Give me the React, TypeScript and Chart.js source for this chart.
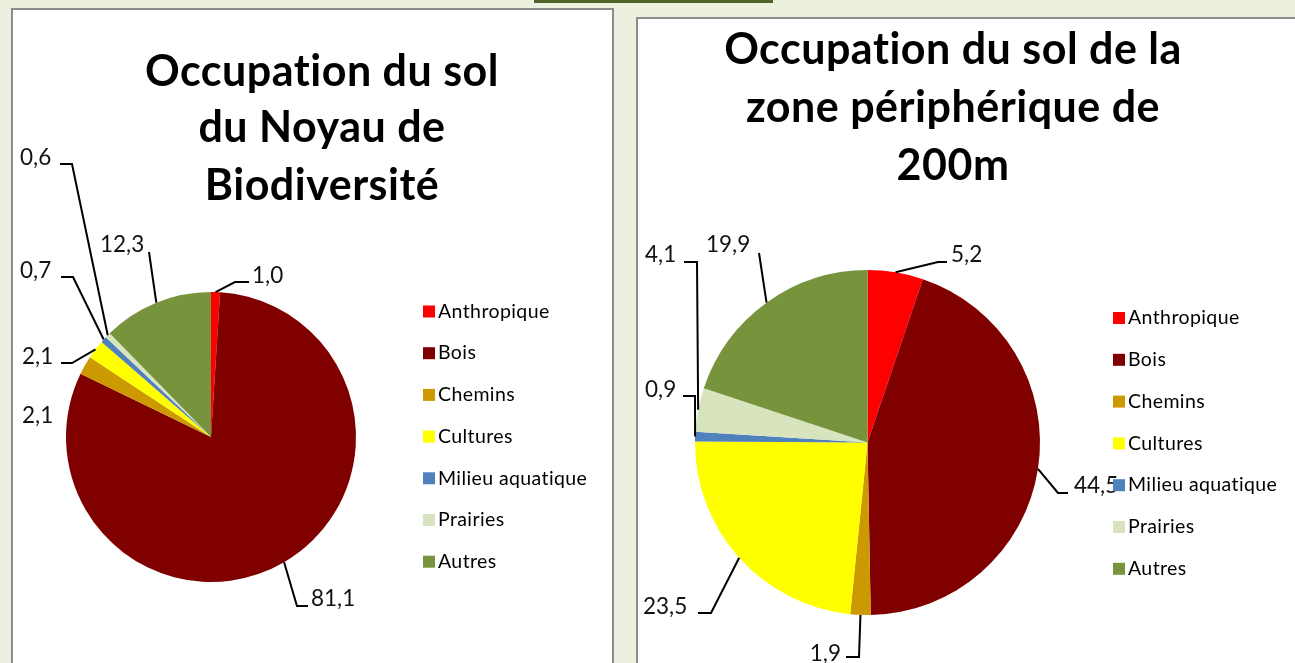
import React, { useEffect, useRef } from "react";
import { Chart, registerables } from "chart.js";

Chart.register(...registerables);

// ---------- data ----------
const categories = ["Anthropique", "Bois", "Chemins", "Cultures", "Milieu aquatique", "Prairies", "Autres"];
const sliceColors = ["#FF0000", "#800000", "#CC9900", "#FFFF00", "#4F81BD", "#D7E4BD", "#77933C"];
const noyauValues = [1.0, 81.1, 2.1, 2.1, 0.7, 0.6, 12.3];
const zoneValues = [5.2, 44.5, 1.9, 23.5, 0.9, 4.1, 19.9];
const noyauTitle = ["Occupation du sol", "du Noyau de", "Biodiversité"];
const zoneTitle = ["Occupation du sol de la", "zone périphérique de", "200m"];

// ---------- layout (canvas pixels) ----------
type LabelPos = { x: number; y: number; align: "left" | "right"; path: [number, number][] | null };

const noyauLabelPos: LabelPos[] = [
  { x: 239, y: 273, align: "left", path: [[222, 272], [236, 272]] },
  { x: 298, y: 596, align: "left", path: [[284, 596], [295, 596]] },
  { x: 9, y: 413, align: "left", path: null },
  { x: 9, y: 354, align: "left", path: [[59, 353], [48, 353]] },
  { x: 7, y: 268, align: "left", path: [[60, 267], [48, 267]] },
  { x: 7, y: 155, align: "left", path: [[59, 154], [47, 154]] },
  { x: 87, y: 242, align: "left", path: [[136, 242]] },
];

const zoneLabelPos: LabelPos[] = [
  { x: 313, y: 243, align: "left", path: [[300, 243], [309, 243]] },
  { x: 436, y: 474, align: "left", path: [[420, 474], [430, 474]] },
  { x: 203, y: 642, align: "right", path: [[221, 638], [208, 638]] },
  { x: 5, y: 595, align: "left", path: [[73, 594], [60, 594]] },
  { x: 7, y: 378, align: "left", path: [[57, 377], [45, 377]] },
  { x: 7, y: 243, align: "left", path: [[59, 243], [46, 243]] },
  { x: 68, y: 233, align: "left", path: [[121, 234]] },
];

type PanelCfg = {
  values: number[];
  title: string[];
  titleX: number;
  titleBaselines: number[];
  titleFont: string;
  labelPos: LabelPos[];
  legendX: number;
  legendY: number;
  legendStep: number;
  padding: { left: number; top: number; right: number; bottom: number };
  cw: number;
  ch: number;
};

const fmt = (v: number) => v.toFixed(1).replace(".", ",");

const overlayPlugin = (cfg: PanelCfg) => ({
  id: "overlay",
  afterDraw(chart: any) {
    const ctx = chart.ctx as any;
    ctx.save();
    // title
    ctx.fillStyle = "#000";
    ctx.font = cfg.titleFont;
    ctx.letterSpacing = "0.5px";
    ctx.textAlign = "center";
    ctx.textBaseline = "alphabetic";
    cfg.title.forEach((t, i) => ctx.fillText(t, cfg.titleX, cfg.titleBaselines[i]));

    // data labels + leader lines
    const meta = chart.getDatasetMeta(0);
    ctx.font = "22.5px Lato";
    ctx.letterSpacing = "0px";
    meta.data.forEach((arc: any, i: number) => {
      const p = cfg.labelPos[i];
      const v = cfg.values[i];
      if (p.path) {
        const mid = (arc.startAngle + arc.endAngle) / 2;
        const ex = arc.x + Math.cos(mid) * arc.outerRadius;
        const ey = arc.y + Math.sin(mid) * arc.outerRadius;
        ctx.beginPath();
        ctx.moveTo(ex, ey);
        p.path.forEach(([px, py]) => ctx.lineTo(px, py));
        ctx.strokeStyle = "#000";
        ctx.lineWidth = 2;
        ctx.lineJoin = "miter";
        ctx.stroke();
      }
      ctx.fillStyle = "#111";
      ctx.textAlign = p.align;
      ctx.textBaseline = "alphabetic";
      ctx.fillText(fmt(v), p.x, p.y);
    });

    // legend
    ctx.font = "19.5px Lato";
    ctx.letterSpacing = "0.4px";
    ctx.textAlign = "left";
    ctx.textBaseline = "middle";
    categories.forEach((c, i) => {
      const cy = cfg.legendY + i * cfg.legendStep;
      ctx.fillStyle = sliceColors[i];
      ctx.fillRect(cfg.legendX, cy - 6, 12, 12);
      ctx.fillStyle = "#000";
      ctx.fillText(c, cfg.legendX + 15, cy);
    });
    ctx.restore();
  },
});

function PiePanel({ cfg }: { cfg: PanelCfg }) {
  const ref = useRef<HTMLCanvasElement>(null);
  useEffect(() => {
    if (!ref.current) return;
    const chart = new Chart(ref.current, {
      type: "pie",
      data: {
        labels: categories,
        datasets: [
          {
            data: cfg.values,
            backgroundColor: sliceColors,
            borderWidth: 0,
          },
        ],
      },
      options: {
        responsive: false,
        animation: false,
        layout: { padding: cfg.padding },
        plugins: {
          legend: { display: false },
          tooltip: { enabled: false },
          title: { display: false },
        },
      },
      plugins: [overlayPlugin(cfg)],
    });
    return () => chart.destroy();
  }, [cfg]);
  return <canvas ref={ref} width={cfg.cw} height={cfg.ch} style={{ display: "block", width: cfg.cw, height: cfg.ch }} />;
}

const noyauCfg: PanelCfg = {
  values: noyauValues,
  title: noyauTitle,
  titleX: 309,
  titleBaselines: [76, 132, 190],
  titleFont: "bold 43px Lato",
  labelPos: noyauLabelPos,
  legendX: 410,
  legendY: 301.5,
  legendStep: 41.7,
  padding: { left: 53, top: 282, right: 256, bottom: 88 },
  cw: 599,
  ch: 660,
};

const zoneCfg: PanelCfg = {
  values: zoneValues,
  title: zoneTitle,
  titleX: 315,
  titleBaselines: [45, 103, 161],
  titleFont: "bold 43px Lato",
  labelPos: zoneLabelPos,
  legendX: 475,
  legendY: 299,
  legendStep: 41.8,
  padding: { left: 57, top: 251, right: 258, bottom: 54 },
  cw: 660,
  ch: 650,
};

export default function App() {
  return (
    <div style={{ position: "fixed", left: 0, top: 0, width: 1295, height: 663, background: "#EBF1DE", overflow: "hidden" }}>
      <div style={{ position: "absolute", left: 534, top: 0, width: 239, height: 3, background: "#4F6228" }} />
      <div
        style={{
          position: "absolute",
          left: 11,
          top: 8,
          width: 603,
          height: 700,
          boxSizing: "border-box",
          border: "2px solid #8C8C8C",
          background: "#FFFFFF",
        }}
      >
        <PiePanel cfg={noyauCfg} />
      </div>
      <div
        style={{
          position: "absolute",
          left: 636,
          top: 17,
          width: 700,
          height: 700,
          boxSizing: "border-box",
          border: "2px solid #8C8C8C",
          background: "#FFFFFF",
        }}
      >
        <PiePanel cfg={zoneCfg} />
      </div>
    </div>
  );
}
